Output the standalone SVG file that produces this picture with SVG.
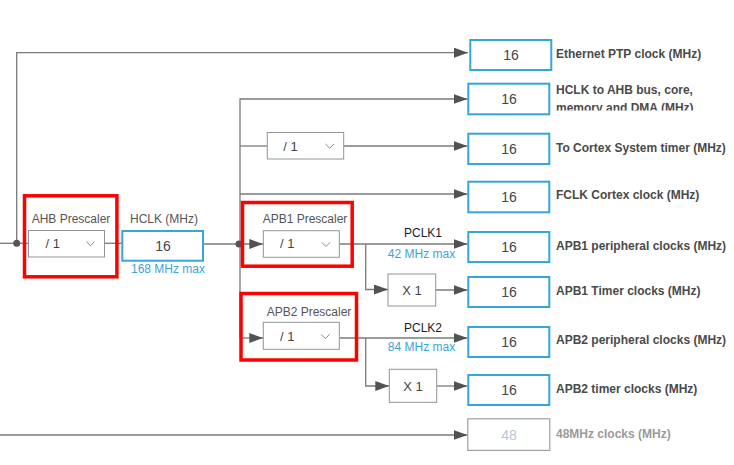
<svg xmlns="http://www.w3.org/2000/svg" width="734" height="465" viewBox="0 0 734 465">
<style>
.ln{fill:none;stroke:#7a7a7a;stroke-width:1.3}
.arr{marker-end:url(#ah)}
.out{fill:#fff;stroke:#34a6dc;stroke-width:2}
.dis{fill:#fff;stroke:#9aa0a6;stroke-width:1.2}
.dd{fill:#fff;stroke:#8f959b;stroke-width:1}
.red{fill:none;stroke:#ff0000;stroke-width:3.5}
.chev{fill:none;stroke:#8a8a8a;stroke-width:1}
.val{font-family:"Liberation Sans",Arial,sans-serif;font-size:14px;fill:#444;text-anchor:middle}
.sel{font-family:"Liberation Sans",Arial,sans-serif;font-size:13px;fill:#444}
.lbl{font-family:"Liberation Sans",Arial,sans-serif;font-size:12px;font-weight:bold;fill:#4a4a4a}
.cap{font-family:"Liberation Sans",Arial,sans-serif;font-size:12px;fill:#555}
.pclk{font-family:"Liberation Sans",Arial,sans-serif;font-size:12px;fill:#1a1a2a;text-anchor:middle}
.max{font-family:"Liberation Sans",Arial,sans-serif;font-size:12px;fill:#3ca3d9;text-anchor:middle}
</style>
<defs>
<marker id="ah" markerUnits="userSpaceOnUse" markerWidth="14" markerHeight="10" refX="14" refY="5" orient="auto">
<path d="M0,0 L14,5 L0,10 Z" fill="#525252"/>
</marker>
<clipPath id="clipHclk"><rect x="550" y="75" width="184" height="35.5"/></clipPath>
</defs>

<g id="connectors">
<path class="ln arr" d="M16.7,243.3 V52.7 H468"/>
<path class="ln" d="M0,243.3 H28.5"/>
<path class="ln" d="M104.5,243.3 H122"/>
<path class="ln arr" d="M203,244 H263.3"/>
<path class="ln arr" d="M240,338 V99 H467.5"/>
<path class="ln" d="M240,146 H267.3"/>
<path class="ln arr" d="M343.7,146 H467.5"/>
<path class="ln arr" d="M240,194 H467.5"/>
<path class="ln arr" d="M240,338 H263.3"/>
<path class="ln arr" d="M339.3,244 H467.5"/>
<path class="ln arr" d="M365.7,244 V289.5 H388"/>
<path class="ln arr" d="M435.7,290 H467.5"/>
<path class="ln arr" d="M339.3,338 H467.5"/>
<path class="ln arr" d="M365.7,338 V386 H389.3"/>
<path class="ln arr" d="M436.7,386 H467.5"/>
<path class="ln arr" d="M0,435 H467.5"/>
<circle cx="16.7" cy="243.3" r="3.5" fill="#555"/>
<circle cx="239" cy="244" r="3.5" fill="#555"/>
</g>

<g id="ahb-prescaler">
<rect class="red" x="24.5" y="195.8" width="92.4" height="81"/>
<text class="cap" x="71" y="222.7" text-anchor="middle">AHB Prescaler</text>
<rect class="dd" x="28.5" y="230.5" width="76" height="26.5"/>
<text class="sel" x="45.5" y="248.3">/ 1</text>
<path class="chev" d="M86.5,241.5 L90.5,245.8 L94.5,241.5"/>
</g>

<g id="hclk">
<text class="cap" x="164" y="222.7" text-anchor="middle">HCLK (MHz)</text>
<rect class="out" x="122.3" y="231" width="80.7" height="29.7"/>
<text class="val" x="163" y="250.5">16</text>
<text class="max" x="168" y="272.7">168 MHz max</text>
</g>

<g id="cortex-prescaler">
<rect class="dd" x="267.3" y="132.5" width="76.4" height="26.5"/>
<text class="sel" x="283.3" y="150.5">/ 1</text>
<path class="chev" d="M325.5,144 L329.8,148.2 L334,144"/>
</g>

<g id="apb1-prescaler">
<rect class="red" x="242.5" y="202.5" width="109.7" height="63.7"/>
<text class="cap" x="305" y="222.7" text-anchor="middle">APB1 Prescaler</text>
<rect class="dd" x="263.3" y="230.7" width="76" height="26.6"/>
<text class="sel" x="280" y="248.3">/ 1</text>
<path class="chev" d="M321.7,242.3 L325.9,246.5 L330.1,242.3"/>
<text class="pclk" x="423" y="236.7">PCLK1</text>
<text class="max" x="421.5" y="258">42 MHz max</text>
</g>

<g id="apb1-timer-mult">
<rect class="dd" x="388" y="274" width="47.7" height="32"/>
<text class="sel" x="412" y="294.5" text-anchor="middle">X 1</text>
</g>

<g id="apb2-prescaler">
<rect class="red" x="241" y="293.5" width="115.5" height="66.5"/>
<text class="cap" x="309" y="316" text-anchor="middle">APB2 Prescaler</text>
<rect class="dd" x="263.3" y="322.3" width="76" height="27"/>
<text class="sel" x="280" y="341">/ 1</text>
<path class="chev" d="M321,334.3 L325.3,338.6 L329.6,334.3"/>
<text class="pclk" x="423" y="331.7">PCLK2</text>
<text class="max" x="421.5" y="351">84 MHz max</text>
</g>

<g id="apb2-timer-mult">
<rect class="dd" x="389.3" y="369.3" width="47.4" height="33"/>
<text class="sel" x="413" y="390.5" text-anchor="middle">X 1</text>
</g>

<g id="out-ethernet">
<rect class="out" x="470.3" y="40" width="81" height="30"/>
<text class="val" x="511" y="60">16</text>
<text class="lbl" x="556" y="58.3">Ethernet PTP clock (MHz)</text>
</g>

<g id="out-hclk-ahb">
<rect class="out" x="468.3" y="83.7" width="81" height="30.6"/>
<text class="val" x="509" y="104">16</text>
<g clip-path="url(#clipHclk)">
<text class="lbl" x="556" y="94">HCLK to AHB bus, core,</text>
<text class="lbl" x="556" y="111.5">memory and DMA (MHz)</text>
</g>
</g>

<g id="out-cortex-timer">
<rect class="out" x="468.3" y="133.7" width="81" height="30.3"/>
<text class="val" x="509" y="154">16</text>
<text class="lbl" x="556" y="151.5">To Cortex System timer (MHz)</text>
</g>

<g id="out-fclk">
<rect class="out" x="468.3" y="181.7" width="81" height="30.6"/>
<text class="val" x="509" y="202">16</text>
<text class="lbl" x="556" y="199.3">FCLK Cortex clock (MHz)</text>
</g>

<g id="out-apb1-periph">
<rect class="out" x="468.3" y="232" width="81" height="30"/>
<text class="val" x="509" y="252">16</text>
<text class="lbl" x="556" y="250">APB1 peripheral clocks (MHz)</text>
</g>

<g id="out-apb1-timer">
<rect class="out" x="468.3" y="277" width="81" height="30"/>
<text class="val" x="509" y="297">16</text>
<text class="lbl" x="556" y="295">APB1 Timer clocks (MHz)</text>
</g>

<g id="out-apb2-periph">
<rect class="out" x="468.3" y="327" width="81" height="30"/>
<text class="val" x="509" y="347">16</text>
<text class="lbl" x="556" y="344">APB2 peripheral clocks (MHz)</text>
</g>

<g id="out-apb2-timer">
<rect class="out" x="468.3" y="375" width="81" height="30"/>
<text class="val" x="509" y="395">16</text>
<text class="lbl" x="556" y="392.7">APB2 timer clocks (MHz)</text>
</g>

<g id="out-48mhz">
<rect class="dis" x="467.8" y="418.8" width="82" height="31.6"/>
<text class="val" x="509" y="440" style="fill:#b3c7da">48</text>
<text class="lbl" x="556" y="438.3" style="fill:#9a9a9a">48MHz clocks (MHz)</text>
</g>
</svg>
